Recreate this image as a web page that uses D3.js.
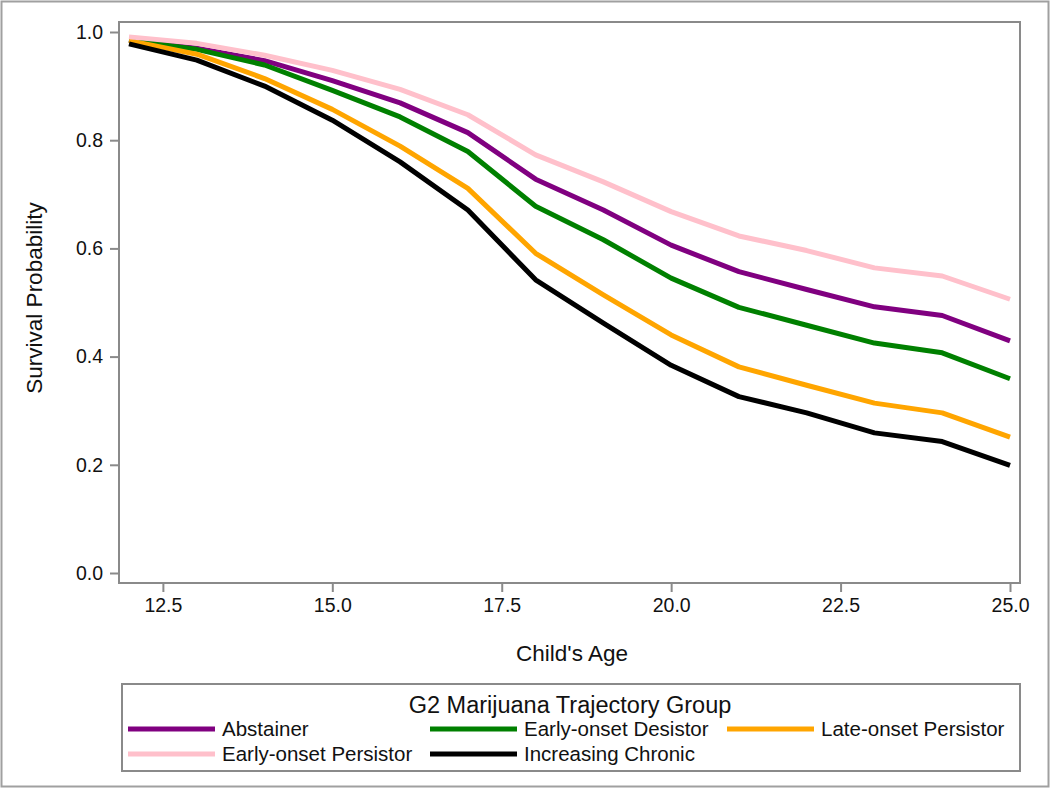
<!DOCTYPE html>
<html>
<head>
<meta charset="utf-8">
<script src="https://cdn.jsdelivr.net/npm/d3@7"></script>
<style>
  body { margin: 0; background: #fff; }
  svg { display: block; }
</style>
</head>
<body>
<div id="chart"></div>
<script>
// survival curves by trajectory group
const ages = [12, 13, 14, 15, 16, 17, 18, 19, 20, 21, 22, 23, 24, 25];
const groupNames = ["Abstainer", "Early-onset Desistor", "Late-onset Persistor", "Early-onset Persistor", "Increasing Chronic"];
const groupColors = ["#800080", "#008000", "#FFA500", "#FFC0CB", "#000000"];

const abstainer = [0.985, 0.970, 0.947, 0.910, 0.869, 0.814, 0.728, 0.671, 0.606, 0.557, 0.524, 0.492, 0.476, 0.429];
const earlyDesistor = [0.985, 0.968, 0.939, 0.892, 0.843, 0.779, 0.678, 0.616, 0.545, 0.491, 0.458, 0.425, 0.407, 0.359];
const lateOnset = [0.984, 0.959, 0.914, 0.857, 0.789, 0.711, 0.591, 0.514, 0.440, 0.381, 0.347, 0.314, 0.296, 0.251];
const earlyPersistor = [0.991, 0.979, 0.957, 0.929, 0.894, 0.847, 0.773, 0.723, 0.668, 0.623, 0.596, 0.564, 0.549, 0.506];
const increasingChronic = [0.978, 0.948, 0.900, 0.837, 0.760, 0.671, 0.542, 0.462, 0.384, 0.326, 0.296, 0.259, 0.243, 0.199];

const seriesValues = [abstainer, earlyDesistor, lateOnset, earlyPersistor, increasingChronic];

const xTicks = [12.5, 15.0, 17.5, 20.0, 22.5, 25.0];
const yTicks = [0.0, 0.2, 0.4, 0.6, 0.8, 1.0];

const width = 1050;
const height = 788;
const font = "'Liberation Sans', Arial, sans-serif";
const frameColor = "#8a8a8a";

const svg = d3.select("#chart")
  .append("svg")
  .attr("width", width)
  .attr("height", height);

// outer border
svg.append("rect")
  .attr("x", 1.5).attr("y", 1.5)
  .attr("width", width - 3).attr("height", height - 3)
  .attr("fill", "#fff")
  .attr("stroke", "#a0a0a0")
  .attr("stroke-width", 2);

// plot frame
const frame = { left: 119, right: 1020, top: 22, bottom: 583 };

const x = d3.scaleLinear().domain([12, 25]).range([129, 1010]);
const y = d3.scaleLinear().domain([0, 1]).range([573, 32]);

const xAxis = svg.append("g")
  .attr("transform", `translate(0,${frame.bottom})`)
  .call(d3.axisBottom(x).tickValues(xTicks).tickFormat(d3.format(".1f")).tickSize(9).tickPadding(6));

const yAxis = svg.append("g")
  .attr("transform", `translate(${frame.left},0)`)
  .call(d3.axisLeft(y).tickValues(yTicks).tickFormat(d3.format(".1f")).tickSize(9).tickPadding(7));

[xAxis, yAxis].forEach(ax => {
  ax.select(".domain").remove();
  ax.selectAll("line").attr("stroke", frameColor).attr("stroke-width", 2);
  ax.selectAll("text")
    .attr("fill", "#111")
    .style("font-family", font)
    .style("font-size", "19.5px");
});

svg.append("rect")
  .attr("x", frame.left).attr("y", frame.top)
  .attr("width", frame.right - frame.left)
  .attr("height", frame.bottom - frame.top)
  .attr("fill", "none")
  .attr("stroke", frameColor)
  .attr("stroke-width", 2);

// axis titles
svg.append("text")
  .attr("x", 572)
  .attr("y", 661)
  .attr("text-anchor", "middle")
  .style("font-family", font)
  .style("font-size", "22.5px")
  .attr("fill", "#111")
  .text("Child's Age");

svg.append("text")
  .attr("transform", `translate(42,298) rotate(-90)`)
  .attr("text-anchor", "middle")
  .style("font-family", font)
  .style("font-size", "22.5px")
  .attr("fill", "#111")
  .text("Survival Probability");

// lines
const line = d3.line()
  .x((d, i) => x(ages[i]))
  .y(d => y(d));

svg.append("g")
  .selectAll("path")
  .data(seriesValues)
  .enter().append("path")
  .attr("d", d => line(d))
  .attr("fill", "none")
  .attr("stroke", (d, i) => groupColors[i])
  .attr("stroke-width", 5)
  .attr("stroke-linejoin", "round");

// legend
const legend = svg.append("g");
legend.append("rect")
  .attr("x", 122).attr("y", 684)
  .attr("width", 898).attr("height", 87)
  .attr("fill", "none")
  .attr("stroke", frameColor)
  .attr("stroke-width", 2);

legend.append("text")
  .attr("x", 570).attr("y", 713)
  .attr("text-anchor", "middle")
  .style("font-family", font)
  .style("font-size", "23.5px")
  .attr("fill", "#111")
  .text("G2 Marijuana Trajectory Group");

const legendCols = [128, 430, 727];
const legendRows = [729, 754];

const item = legend.selectAll(".item")
  .data(groupNames)
  .enter().append("g")
  .attr("class", "item")
  .attr("transform", (d, i) => `translate(${legendCols[i % 3]},${legendRows[Math.floor(i / 3)]})`);

item.append("line")
  .attr("x1", 0).attr("x2", 87)
  .attr("stroke", (d, i) => groupColors[i])
  .attr("stroke-width", 5);

item.append("text")
  .attr("x", 94)
  .attr("dy", "0.35em")
  .style("font-family", font)
  .style("font-size", "20.5px")
  .attr("fill", "#111")
  .text(d => d);
</script>
</body>
</html>
